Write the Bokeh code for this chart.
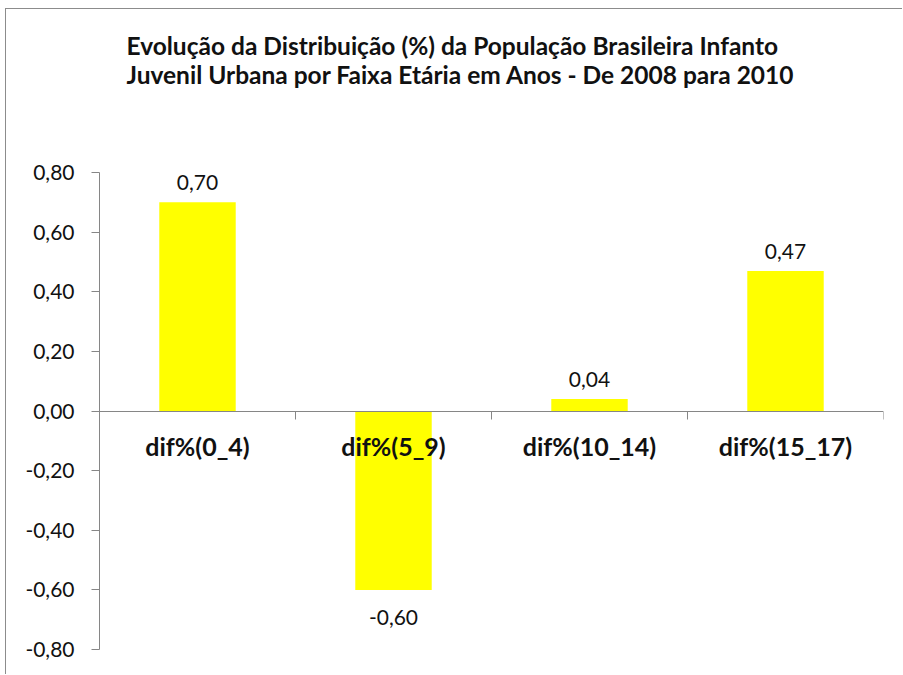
from bokeh.plotting import figure
from bokeh.models import Range1d, FixedTicker, CustomJSTickFormatter, LinearAxis, ColumnDataSource, Title
from bokeh.core.properties import value
from bokeh.embed import file_html
from bokeh.resources import INLINE

categories = ["dif%(0_4)", "dif%(5_9)", "dif%(10_14)", "dif%(15_17)"]
diffs = [0.70, -0.60, 0.04, 0.47]
y_ticks = [-0.80, -0.60, -0.40, -0.20, 0.00, 0.20, 0.40, 0.60, 0.80]
title_lines = ["Evolução da Distribuição (%) da População Brasileira Infanto",
               "Juvenil Urbana por Faixa Etária em Anos - De 2008  para 2010"]

FONT = "Lato"
GRAY = "#868686"
TXT = "#111111"

n = len(categories)
centers = [i + 0.5 for i in range(n)]
boundaries = list(range(n + 1))
labels = [f"{v:.2f}".replace(".", ",") for v in diffs]
offsets = [-12 if v >= 0 else 20 for v in diffs]
baselines = ["bottom" if v >= 0 else "top" for v in diffs]

p = figure(width=897, height=666,
           x_range=Range1d(0, n), y_range=Range1d(y_ticks[0], y_ticks[-1]),
           output_backend="svg", toolbar_location=None, x_axis_location=None,
           min_border_left=93, min_border_right=20, min_border_top=163, min_border_bottom=26,
           styles={"margin-left": "5px", "margin-top": "8px",
                   "border-left": "1px solid #8c8c8c", "border-top": "1px solid #8c8c8c"})
p.grid.visible = False
p.outline_line_color = None
p.title.text = ""

# blank spacer between frame and title (closest to the frame)
spacer = Title(text="\u00a0", text_font=FONT, text_font_size="12px", text_color="white",
               standoff=67)
p.add_layout(spacer, "above")
title = Title(text="\n".join(title_lines), align="left", offset=27,
              text_font=FONT, text_font_size="24.5px", text_font_style="bold",
              text_color=TXT, standoff=0)
p.add_layout(title, "above")

# y axis
ya = p.yaxis[0]
ya.ticker = FixedTicker(ticks=y_ticks)
ya.formatter = CustomJSTickFormatter(code="return tick.toFixed(2).replace('.', ',');")
ya.major_tick_out = 8
ya.major_tick_in = 0
ya.minor_tick_line_color = None
ya.axis_line_color = GRAY
ya.major_tick_line_color = GRAY
ya.major_label_text_font = FONT
ya.major_label_text_font_size = "21px"
ya.major_label_text_color = TXT
ya.major_label_standoff = 17

# category axis along zero
xa = LinearAxis(fixed_location=0, ticker=FixedTicker(ticks=boundaries),
                formatter=CustomJSTickFormatter(code="return '';"),
                major_tick_out=8, major_tick_in=0, minor_tick_line_color=None,
                axis_line_color=GRAY, major_tick_line_color=GRAY,
                major_label_text_font_size="1px", major_label_standoff=0)
p.add_layout(xa, "below")

src = ColumnDataSource(dict(x=centers, top=diffs, lab=labels, off=offsets, base=baselines,
                            cat=categories))
p.vbar(x="x", top="top", bottom=0, width=0.39, source=src,
       fill_color="#FFFF00", line_color=None)

p.text(x="x", y="top", text="lab", source=src, y_offset="off", text_baseline="base",
       text_align="center", text_font=value(FONT), text_font_size="21px", text_color=TXT)

p.text(x="x", y=0, text="cat", source=src, y_offset=35, text_baseline="middle",
       text_align="center", text_font=value(FONT), text_font_size="25px",
       text_font_style="bold", text_color=TXT)

open("out.html", "w").write(file_html(p, INLINE))
